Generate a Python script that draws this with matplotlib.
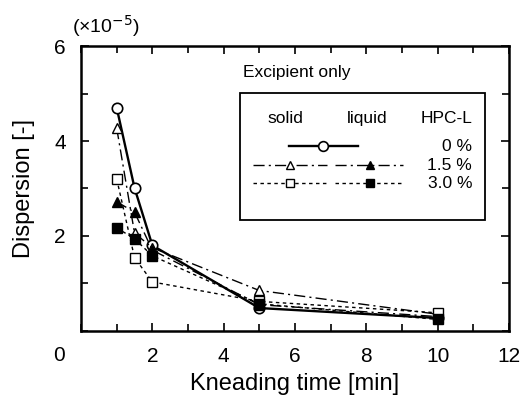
import matplotlib

matplotlib.use("Agg")
import matplotlib.pyplot as plt
from matplotlib.ticker import MultipleLocator

plt.rcParams["font.family"] = ["Liberation Sans", "DejaVu Sans"]

# kneading time [min]
time = [1, 1.5, 2, 5, 10]
# dispersion in units of 1e-5
solid_0 = [4.70, 3.01, 1.80, 0.48, 0.27]
solid_15 = [4.27, 2.06, 1.75, 0.85, 0.35]
liquid_15 = [2.72, 2.50, 1.70, 0.55, 0.30]
solid_30 = [3.20, 1.54, 1.03, 0.62, 0.38]
liquid_30 = [2.17, 1.94, 1.58, 0.57, 0.24]
levels = ["0 %", "1.5 %", "3.0 %"]

dashdot = (0, (8, 3, 1.5, 3))
dotted = (0, (2.5, 2.5))

fig = plt.figure(figsize=(5.23, 4.01), dpi=100)
ax = fig.add_axes([0.155, 0.175, 0.818, 0.710])

ax.plot(time, solid_0, "-", lw=1.7, color="black", marker="o", ms=7.5,
        mfc="white", mec="black", mew=1.2)
series = (
    (solid_15, dashdot, "^", "white"),
    (liquid_15, dashdot, "^", "black"),
    (solid_30, dotted, "s", "white"),
    (liquid_30, dotted, "s", "black"),
)
for vals, ls, mk, fc in series:
    ax.plot(time, vals, ls=ls, lw=1, color="black", marker=mk, ms=6.5,
            mfc=fc, mec="black", mew=1)

ax.set_xlim(0, 12)
ax.set_ylim(0, 6)
ax.set_xticks([2, 4, 6, 8, 10, 12])
ax.set_yticks([2, 4, 6])
ax.xaxis.set_minor_locator(MultipleLocator(1))
ax.yaxis.set_minor_locator(MultipleLocator(1))
ax.tick_params(which="both", direction="in", top=True, right=True, width=1.2, labelsize=15)
ax.tick_params(which="major", length=6)
ax.tick_params(which="minor", length=5)
ax.tick_params(axis="x", pad=12)
ax.tick_params(axis="y", pad=11)
for s in ax.spines.values():
    s.set_linewidth(1.8)

# shared origin label
ax.text(-0.051, -0.085, "0", transform=ax.transAxes, ha="center", va="center", fontsize=15)
ax.text(-0.022, 1.07, r"(×10$^{\mathsf{-5}}$)", transform=ax.transAxes,
        ha="left", va="center", fontsize=14)

ax.set_xlabel("Kneading time [min]", fontsize=17, labelpad=5)
ax.set_ylabel("Dispersion [-]", fontsize=17, labelpad=14)

# hand-made legend box
ta = ax.transAxes
ax.text(0.379, 0.909, "Excipient only", transform=ta, fontsize=12.5, ha="left", va="center")
ax.add_patch(plt.Rectangle((0.371, 0.389), 0.573, 0.446, transform=ta, fill=False,
                           lw=1.3, color="black"))
ax.text(0.477, 0.747, "solid", transform=ta, fontsize=12.5, ha="center", va="center")
ax.text(0.668, 0.747, "liquid", transform=ta, fontsize=12.5, ha="center", va="center")
ax.text(0.914, 0.747, "HPC-L", transform=ta, fontsize=12.5, ha="right", va="center")
row_y = [0.649, 0.582, 0.519]
for y, lab in zip(row_y, levels):
    ax.text(0.914, y, lab, transform=ta, fontsize=12.5, ha="right", va="center")

ax.plot([0.486, 0.647], [row_y[0]] * 2, transform=ta, color="black", lw=1.7)
ax.plot([0.565], [row_y[0]], transform=ta, marker="o", ms=7, mfc="white", mec="black", mew=1.2)
cols = ((0.402, 0.575, 0.488), (0.593, 0.752, 0.675))
for i, (vals, ls, mk, fc) in enumerate(series):
    y = row_y[1 + i // 2]
    x0, x1, xm = cols[i % 2]
    ax.plot([x0, x1], [y, y], transform=ta, color="black", lw=1, ls=ls)
    ax.plot([xm], [y], transform=ta, marker=mk, ms=5.5, mfc=fc, mec="black", mew=1)

fig.savefig("out.png", dpi=100)
